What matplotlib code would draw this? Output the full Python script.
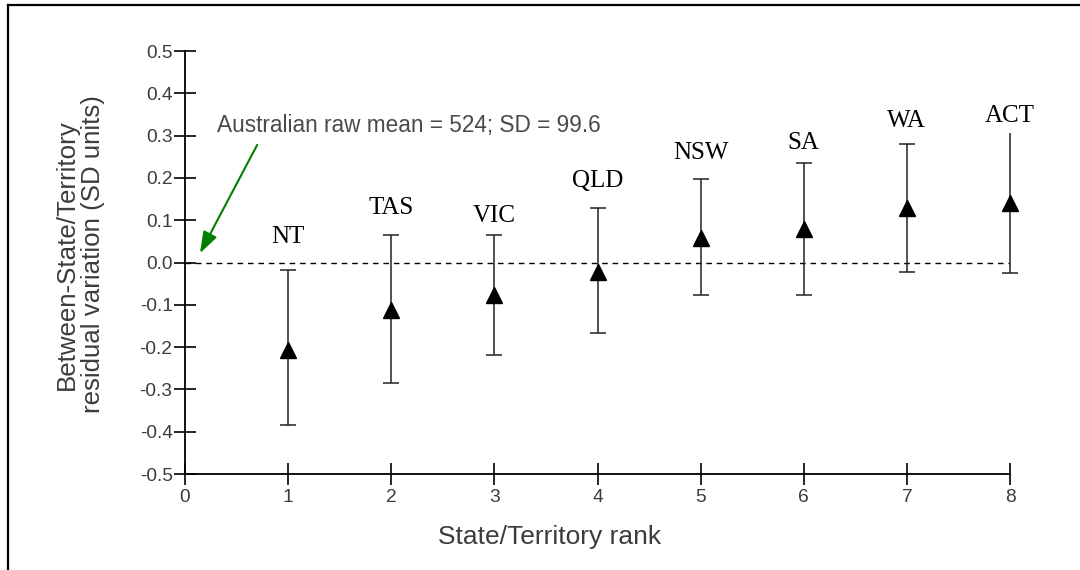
import matplotlib
matplotlib.use("Agg")
import matplotlib.pyplot as plt
from matplotlib.lines import Line2D

# data
ranks = [1, 2, 3, 4, 5, 6, 7, 8]
states = ["NT", "TAS", "VIC", "QLD", "NSW", "SA", "WA", "ACT"]
estimate = [-0.207, -0.112, -0.077, -0.022, 0.058, 0.079, 0.129, 0.140]
lower = [-0.384, -0.285, -0.219, -0.166, -0.077, -0.077, -0.022, -0.025]
upper = [-0.018, 0.065, 0.065, 0.129, 0.197, 0.235, 0.280, 0.306]
label_y = [0.046, 0.115, 0.096, 0.178, 0.245, 0.268, 0.320, 0.332]

y_ticks = [-0.5, -0.4, -0.3, -0.2, -0.1, 0.0, 0.1, 0.2, 0.3, 0.4, 0.5]
x_ticks = [0, 1, 2, 3, 4, 5, 6, 7, 8]

note = "Australian raw mean = 524; SD = 99.6"

sans = "Liberation Sans"
serif = "Liberation Serif"
grey = "#3c3c3c"

fig = plt.figure(figsize=(10.8, 5.7), dpi=100)
ax = fig.add_axes([0.1713, 0.1684, 0.7639, 0.7421])

# error bars, caps and markers
ax.vlines(ranks, lower, upper, color="#222222", lw=1.1, clip_on=False, zorder=3)
ax.plot(ranks, lower, ls="none", marker="_", ms=11, mew=1.1, color="#222222",
        clip_on=False, zorder=3)
ax.plot(ranks[:-1], upper[:-1], ls="none", marker="_", ms=11, mew=1.1,
        color="#222222", clip_on=False, zorder=3)
ax.plot(ranks, estimate, ls="none", marker="^", ms=11, color="black",
        clip_on=False, zorder=4)

ax.axhline(0, color="black", lw=1.0, ls=(0, (4, 3.5)), zorder=2)

for r, s, ly in zip(ranks, states, label_y):
    ax.text(r, ly, s, ha="center", va="baseline", fontsize=18,
            family=serif, color="black")

ax.annotate("", xy=(0.145, 0.022), xytext=(0.70, 0.278),
            arrowprops=dict(arrowstyle="-|>,head_length=1.3,head_width=0.45",
                            color="#008000", lw=1.5, shrinkA=0, shrinkB=0))
ax.text(0.31, 0.325, note, ha="left", va="center", fontsize=16.3,
        family=sans, color="#4a4a4a")

ax.set_xlim(0, 8)
ax.set_ylim(-0.5, 0.5)
ax.set_xticks(x_ticks)
ax.set_yticks(y_ticks)
ax.set_yticklabels([f"{v:.1f}" for v in y_ticks])
ax.tick_params(axis="both", direction="inout", length=16, width=1.2,
               labelsize=13.8, labelcolor=grey)
ax.tick_params(axis="x", pad=3)
ax.tick_params(axis="y", pad=1)
for lab in ax.get_xticklabels() + ax.get_yticklabels():
    lab.set_family(sans)

for side in ["top", "right"]:
    ax.spines[side].set_visible(False)
for side in ["left", "bottom"]:
    ax.spines[side].set_linewidth(1.3)

fig.text(0.074, 0.554, "Between-State/Territory\nresidual variation (SD units)",
         rotation=90, ha="center", va="center", multialignment="center",
         fontsize=18.6, family=sans, color=grey, linespacing=1.15)
fig.text(0.509, 0.058, "State/Territory rank", ha="center", va="center",
         fontsize=19, family=sans, color=grey)

# outer frame (top and left edges visible)
fig.add_artist(Line2D([0.0074, 1.0], [0.991, 0.991], color="black", lw=1.6))
fig.add_artist(Line2D([0.0074, 0.0074], [0.0, 0.991], color="black", lw=1.6))

fig.savefig("out.png", dpi=100)
